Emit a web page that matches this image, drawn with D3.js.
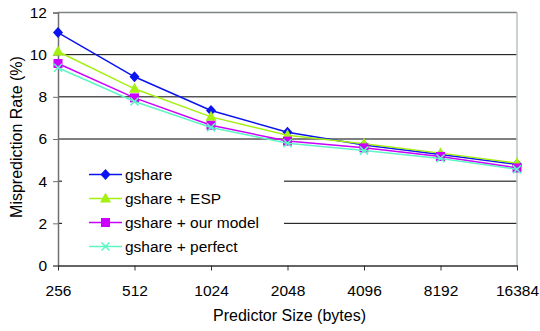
<!DOCTYPE html>
<html><head><meta charset="utf-8">
<script src="https://cdn.jsdelivr.net/npm/d3@7"></script>
<style>body{margin:0;background:#fff}svg{display:block}text{font-family:"Liberation Sans",Arial,sans-serif;fill:#000}</style>
</head><body>
<svg id="c" width="540" height="331"></svg>
<script>
const categories = ["256","512","1024","2048","4096","8192","16384"];
const gshare     = [11.05, 8.95, 7.35, 6.32, 5.72, 5.26, 4.80];
const esp        = [10.15, 8.38, 7.05, 6.18, 5.78, 5.33, 4.85];
const ourModel   = [9.58, 7.95, 6.65, 5.90, 5.58, 5.17, 4.63];
const perfect    = [9.38, 7.78, 6.55, 5.80, 5.45, 5.08, 4.56];
const yTicks     = [0, 2, 4, 6, 8, 10, 12];
const seriesNames = ["gshare", "gshare + ESP", "gshare + our model", "gshare + perfect"];

const series = [
  {name: seriesNames[0], values: gshare,   color: "#0a14f0", marker: "diamond"},
  {name: seriesNames[1], values: esp,      color: "#a4f010", marker: "triangle"},
  {name: seriesNames[2], values: ourModel, color: "#cc00ff", marker: "square"},
  {name: seriesNames[3], values: perfect,  color: "#5ff5c5", marker: "x"}
];

const svg = d3.select("#c");
const L = 58, R = 517, T = 12.5, B = 265.5;
const x = d3.scalePoint().domain(categories).range([L, R]);
const y = d3.scaleLinear().domain([0, 12]).range([B, T]);

// gridlines
svg.append("g").selectAll("line").data(yTicks.filter(d => d > 0 && d < 12)).join("line")
  .attr("x1", L).attr("x2", R).attr("y1", d => y(d)).attr("y2", d => y(d))
  .attr("stroke", "#000").attr("stroke-width", 1);
// top / right border
svg.append("line").attr("x1", L).attr("x2", R).attr("y1", y(12)).attr("y2", y(12)).attr("stroke", "#7f8585").attr("stroke-width", 1.5);
svg.append("line").attr("x1", R).attr("x2", R).attr("y1", y(12)).attr("y2", B).attr("stroke", "#b8c2c2").attr("stroke-width", 1.5);

// legend background box (hides gridlines)
svg.append("rect").attr("x", 62).attr("y", 150).attr("width", 222).attr("height", 108).attr("fill", "#fff");

// axes
const yAxis = svg.append("g").attr("transform", `translate(${L},0)`)
  .call(d3.axisLeft(y).tickValues(yTicks).tickSize(5).tickPadding(6).tickFormat(d3.format("d")));
yAxis.select(".domain").attr("stroke", "#707070").attr("stroke-width", 1.5);
yAxis.selectAll(".tick line").attr("stroke", "#707070");
yAxis.selectAll("text").style("font-size", "15.5px").attr("fill", "#000");

const xAxis = svg.append("g").attr("transform", `translate(0,${B})`)
  .call(d3.axisBottom(x).tickSize(5).tickSizeOuter(0).tickPadding(14));
xAxis.select(".domain").attr("stroke", "#303030").attr("stroke-width", 1.5);
xAxis.selectAll(".tick line").attr("stroke", "#303030");
xAxis.selectAll("text").style("font-size", "15.5px").attr("fill", "#000");

// axis titles
svg.append("text").attr("x", (L + R) / 2 + 2).attr("y", 321).attr("text-anchor", "middle")
  .style("font-size", "16px").text("Predictor Size (bytes)");
svg.append("text").attr("transform", `translate(22,137) rotate(-90)`).attr("text-anchor", "middle")
  .style("font-size", "16px").text("Misprediction Rate (%)");

function drawMarker(g, type, color, cx, cy) {
  if (type === "diamond") {
    g.append("path").attr("d", `M${cx},${cy-5.5}L${cx+5},${cy}L${cx},${cy+5.5}L${cx-5},${cy}Z`).attr("fill", color);
  } else if (type === "triangle") {
    g.append("path").attr("d", `M${cx},${cy-6}L${cx+5.5},${cy+4}L${cx-5.5},${cy+4}Z`).attr("fill", color);
  } else if (type === "square") {
    g.append("rect").attr("x", cx-4.5).attr("y", cy-4.5).attr("width", 9).attr("height", 9).attr("fill", color);
  } else {
    g.append("path").attr("d", `M${cx-4},${cy-4}L${cx+4},${cy+4}M${cx-4},${cy+4}L${cx+4},${cy-4}`)
      .attr("stroke", color).attr("stroke-width", 1.5).attr("fill", "none");
  }
}

const line = d3.line().x((d, i) => x(categories[i])).y(d => y(d));
series.forEach(s => {
  const g = svg.append("g");
  g.append("path").attr("d", line(s.values)).attr("fill", "none").attr("stroke", s.color).attr("stroke-width", 1.5);
  s.values.forEach((v, i) => drawMarker(g, s.marker, s.color, x(categories[i]), y(v)));
});

// legend
series.forEach((s, i) => {
  const ly = 174.5 + i * 24;
  const g = svg.append("g");
  g.append("line").attr("x1", 89).attr("x2", 122).attr("y1", ly).attr("y2", ly).attr("stroke", s.color).attr("stroke-width", 1.5);
  drawMarker(g, s.marker, s.color, 105.5, ly);
  g.append("text").attr("x", 125).attr("y", ly + 5.5).style("font-size", "15.5px").text(s.name);
});
</script>
</body></html>
